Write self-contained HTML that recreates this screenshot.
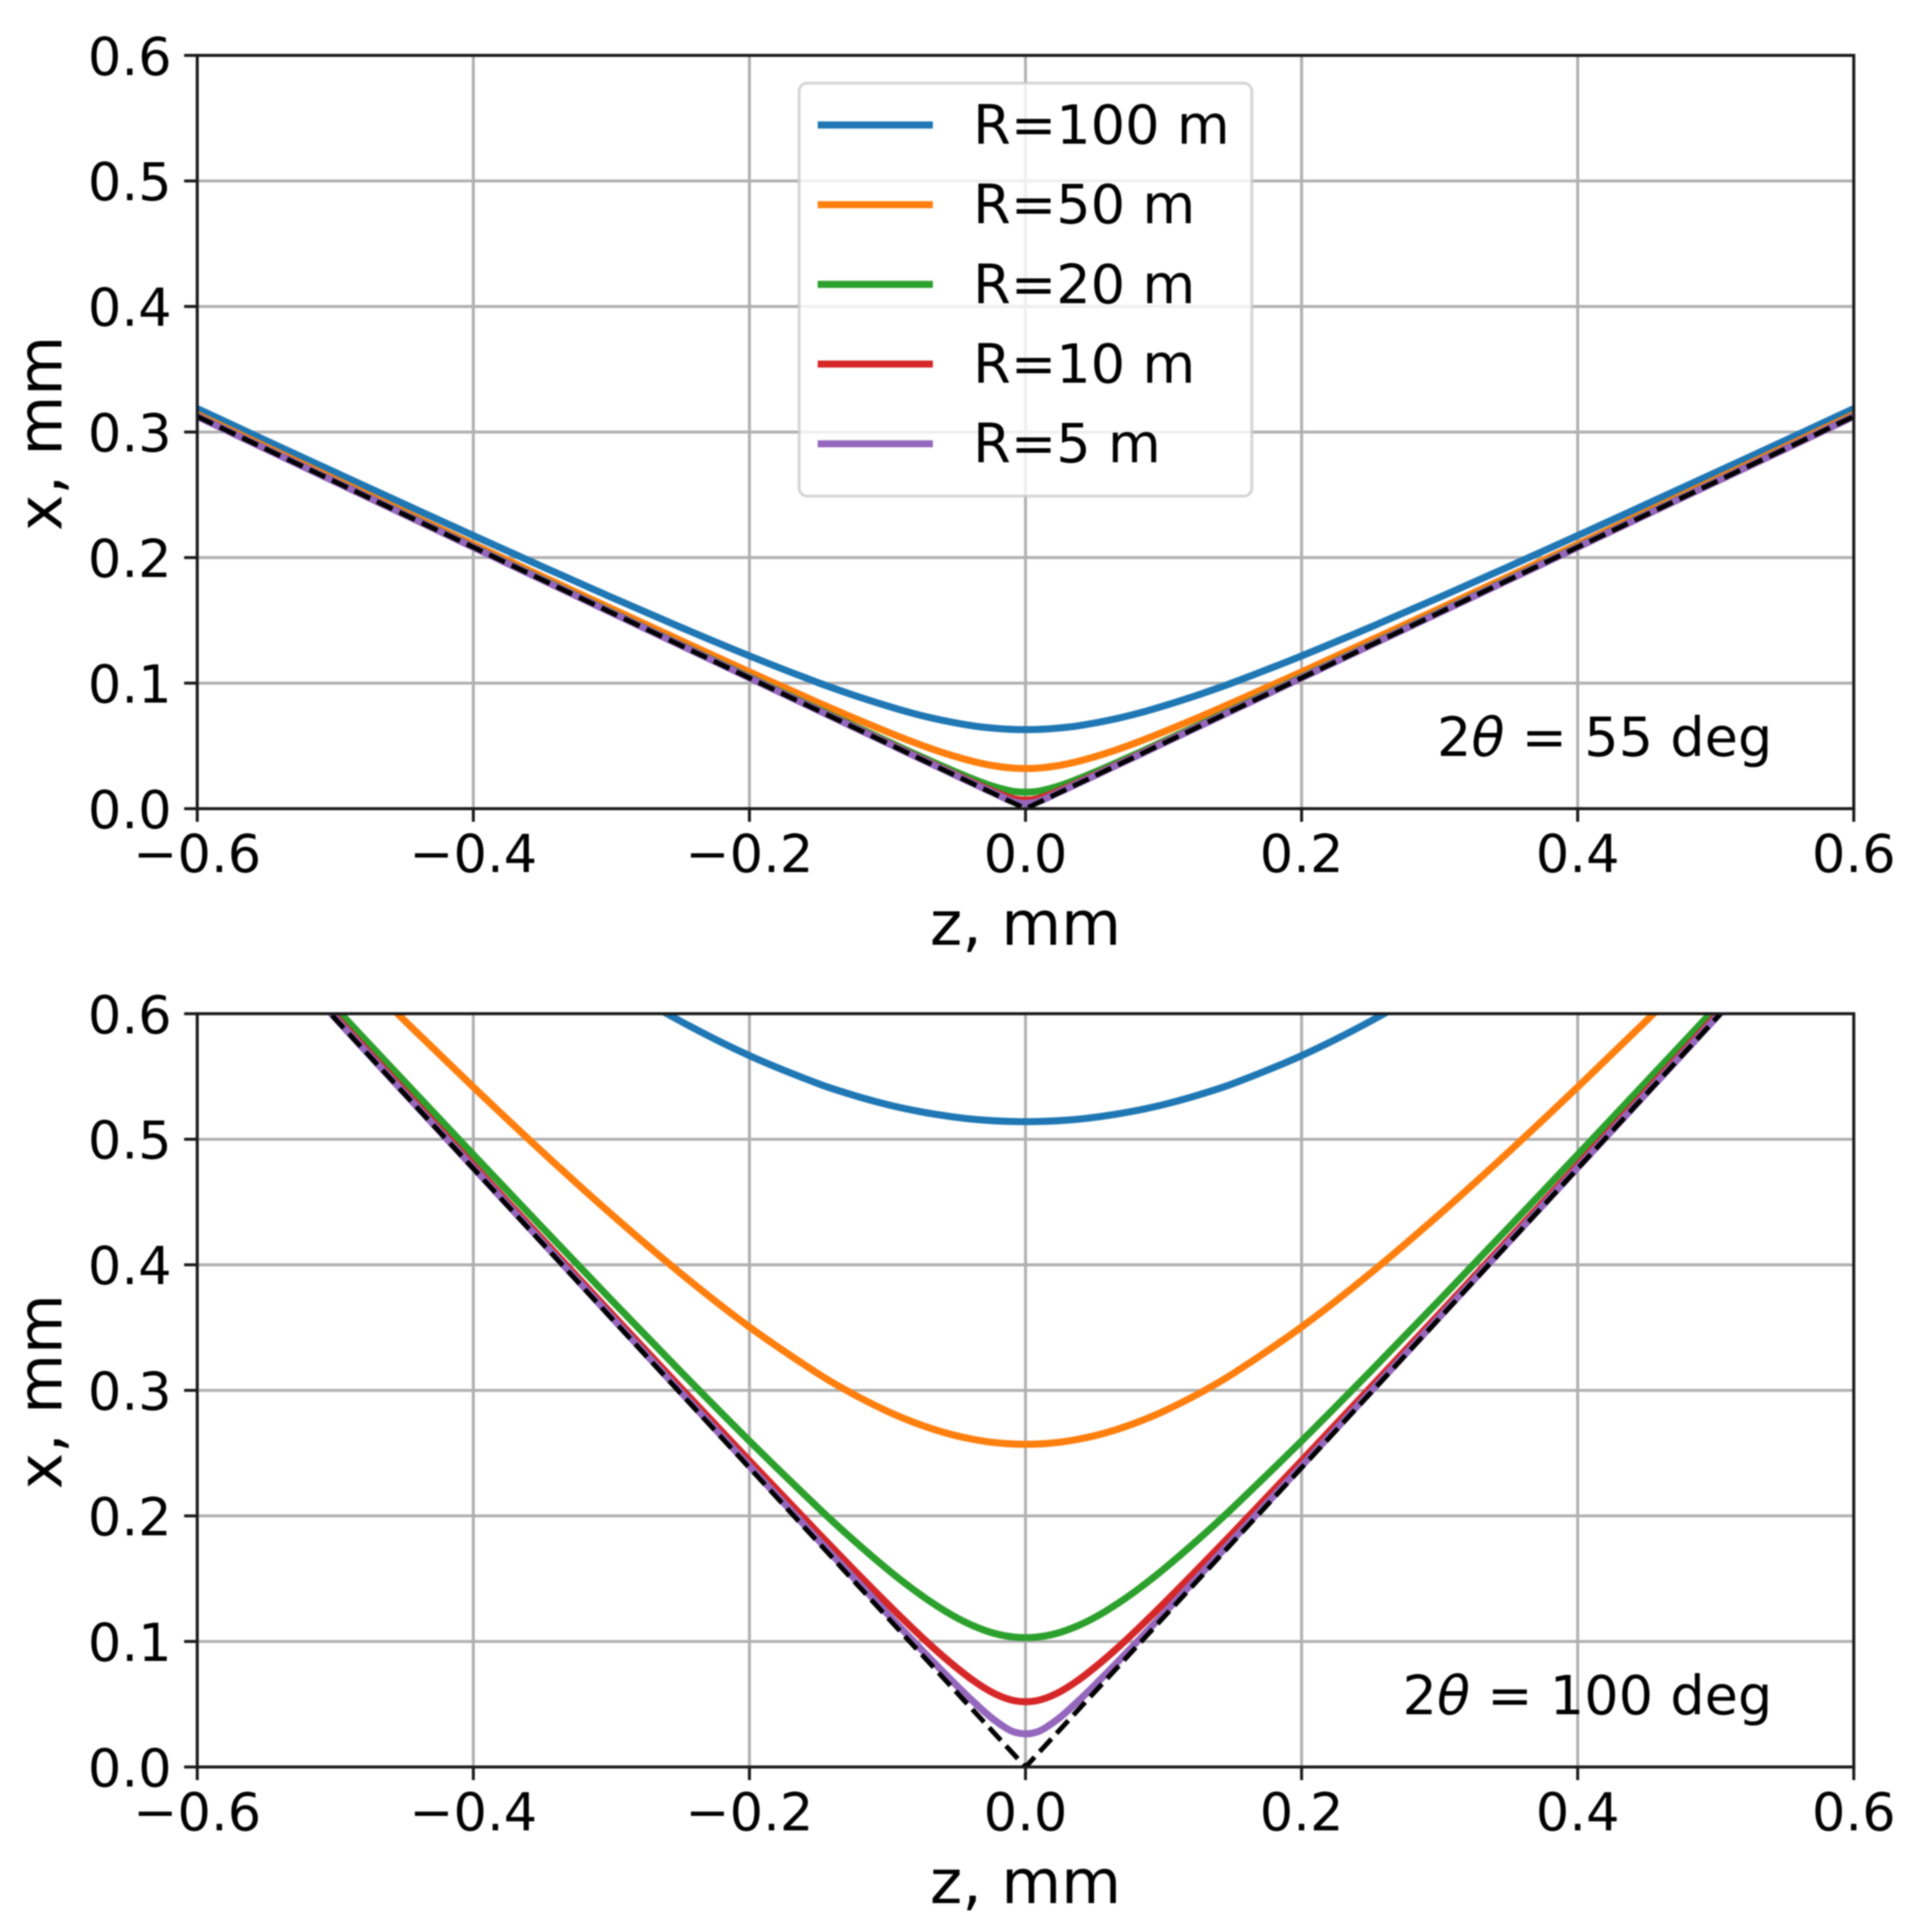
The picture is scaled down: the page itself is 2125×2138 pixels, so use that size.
<!DOCTYPE html>
<html lang="en">
<head>
<meta charset="utf-8">
<title>Curves for two scattering angles</title>
<style>
  html, body { margin: 0; padding: 0; background: #fff; }
  svg { display: block; filter: blur(0.7px); }
  text { font-family: "DejaVu Sans", "Liberation Sans", sans-serif; fill: #000; }
</style>
</head>
<body>
<svg id="figure" xmlns="http://www.w3.org/2000/svg" width="2125" height="2138" viewBox="0 0 2125 2138">
  <rect x="0" y="0" width="2125" height="2138" fill="#ffffff"/>
</svg>
<script>
// Tick labels
const xTicks = [-0.6, -0.4, -0.2, 0.0, 0.2, 0.4, 0.6];
const yTicks = [0.0, 0.1, 0.2, 0.3, 0.4, 0.5, 0.6];

// Series names and colours
const seriesLabels = ['R=100 m', 'R=50 m', 'R=20 m', 'R=10 m', 'R=5 m'];
const seriesKeys = ['r100', 'r50', 'r20', 'r10', 'r5'];
const seriesColors = ['#1f77b4', '#ff7f0e', '#2ca02c', '#d62728', '#9467bd'];

// |z| sample points in mm (curves are symmetric about z = 0)
const zSamples = [0.0075, 0.0225, 0.0375, 0.0525, 0.0675, 0.0825, 0.1, 0.125, 0.15, 0.2, 0.25, 0.3, 0.35, 0.4, 0.45, 0.5, 0.55, 0.6];

// Top panel, 2theta = 55 deg: x in mm at each |z|
const a55R100 = [0.0631, 0.0641, 0.0659, 0.0687, 0.0721, 0.0762, 0.0818, 0.0906, 0.1003, 0.1217, 0.1446, 0.1684, 0.1928, 0.2175, 0.2426, 0.2678, 0.2931, 0.3187];
const a55R50 = [0.0322, 0.0341, 0.0375, 0.0421, 0.0475, 0.0535, 0.0611, 0.0725, 0.0844, 0.1089, 0.1341, 0.1594, 0.1850, 0.2106, 0.2365, 0.2623, 0.2881, 0.3140];
const a55R20 = [0.0136, 0.0175, 0.0234, 0.0302, 0.0374, 0.0448, 0.0537, 0.0664, 0.0792, 0.1049, 0.1308, 0.1567, 0.1827, 0.2086, 0.2347, 0.2606, 0.2866, 0.3127];
const a55R10 = [0.0076, 0.0134, 0.0206, 0.0281, 0.0357, 0.0434, 0.0525, 0.0654, 0.0784, 0.1043, 0.1304, 0.1563, 0.1823, 0.2083, 0.2344, 0.2604, 0.2864, 0.3125];
const a55R5 = [0.0051, 0.0122, 0.0198, 0.0275, 0.0353, 0.0430, 0.0522, 0.0652, 0.0782, 0.1042, 0.1302, 0.1562, 0.1822, 0.2082, 0.2343, 0.2603, 0.2863, 0.3124];

// Bottom panel, 2theta = 100 deg: x in mm at each |z|
const a100R100 = [0.5141, 0.5147, 0.5159, 0.5178, 0.5203, 0.5233, 0.5276, 0.5352, 0.5442, 0.5666, 0.5941, 0.6261, 0.6620, 0.7010, 0.7428, 0.7870, 0.8330, 0.8807];
const a100R50 = [0.2572, 0.2584, 0.2609, 0.2645, 0.2693, 0.2752, 0.2833, 0.2971, 0.3131, 0.3505, 0.3934, 0.4403, 0.4899, 0.5416, 0.5947, 0.6490, 0.7041, 0.7599];
const a100R20 = [0.1034, 0.1064, 0.1123, 0.1205, 0.1307, 0.1424, 0.1575, 0.1811, 0.2063, 0.2597, 0.3152, 0.3720, 0.4297, 0.4877, 0.5461, 0.6047, 0.6636, 0.7225];
const a100R10 = [0.0527, 0.0585, 0.0686, 0.0814, 0.0957, 0.1112, 0.1300, 0.1578, 0.1862, 0.2440, 0.3024, 0.3612, 0.4204, 0.4795, 0.5388, 0.5982, 0.6576, 0.7170];
const a100R5 = [0.0276, 0.0374, 0.0518, 0.0678, 0.0845, 0.1017, 0.1220, 0.1513, 0.1807, 0.2398, 0.2990, 0.3585, 0.4180, 0.4774, 0.5369, 0.5965, 0.6561, 0.7156];

// Black dashed asymptotes
const guideZ = [-0.6, 0, 0.6];
const guide55 = [0.3124, 0, 0.3124];
const guide100 = [0.7151, 0, 0.7151];

// Annotation strings
const angleValue55 = '55 deg';
const angleValue100 = '100 deg';

const SVG_NS = 'http://www.w3.org/2000/svg';
const fig = document.getElementById('figure');
const PLOT_LEFT = 218.3;
const PLOT_RIGHT = 2051.7;
const PLOT_H = 833.6;
const LINE_W = 7.8;
const SPINE = '#1a1a1a';

function node(tag, parent, attrs) {
  const el = document.createElementNS(SVG_NS, tag);
  for (const k in attrs) el.setAttribute(k, attrs[k]);
  parent.appendChild(el);
  return el;
}

function xAxisFn(z) {
  return PLOT_LEFT + (z + 0.6) / 1.2 * (PLOT_RIGHT - PLOT_LEFT);
}

function yAxisFn(top) {
  return function (x) { return top + PLOT_H - x / 0.6 * PLOT_H; };
}

// Smooth path through the mirrored samples (cubic Hermite segments)
function curvePath(yScale, values) {
  const px = [];
  const py = [];
  for (let i = zSamples.length - 1; i >= 0; i--) {
    px.push(xAxisFn(-zSamples[i]));
    py.push(yScale(values[i]));
  }
  for (let i = 0; i < zSamples.length; i++) {
    px.push(xAxisFn(zSamples[i]));
    py.push(yScale(values[i]));
  }
  const n = px.length;
  const slope = function (i) {
    const a = Math.max(i - 1, 0);
    const b = Math.min(i + 1, n - 1);
    return (py[b] - py[a]) / (px[b] - px[a]);
  };
  let d = 'M' + px[0].toFixed(2) + ' ' + py[0].toFixed(2);
  for (let i = 0; i < n - 1; i++) {
    const dx = (px[i + 1] - px[i]) / 3;
    d += 'C' + (px[i] + dx).toFixed(2) + ' ' + (py[i] + slope(i) * dx).toFixed(2) + ' ' +
      (px[i + 1] - dx).toFixed(2) + ' ' + (py[i + 1] - slope(i + 1) * dx).toFixed(2) + ' ' +
      px[i + 1].toFixed(2) + ' ' + py[i + 1].toFixed(2);
  }
  return d;
}

function tickText(v) {
  return (v < 0 ? '\u2212' : '') + Math.abs(v).toFixed(1);
}

function drawPanel(id, top, seriesValues, guideValues, angleValue) {
  const yScale = yAxisFn(top);
  const bottom = top + PLOT_H;

  const panel = node('g', fig, {});
  
  

  const defs = node('defs', panel, {});
  const clip = node('clipPath', defs, { id: 'clip-' + id });
  node('rect', clip, { x: PLOT_LEFT, y: top, width: PLOT_RIGHT - PLOT_LEFT, height: PLOT_H });

  // Grid
  xTicks.forEach(function (t) {
    const line = node('line', panel, { x1: xAxisFn(t), x2: xAxisFn(t), y1: top, y2: bottom, stroke: '#b0b0b0', 'stroke-width': 3.3 });
    
    
  });
  yTicks.forEach(function (t) {
    const line = node('line', panel, { x1: PLOT_LEFT, x2: PLOT_RIGHT, y1: yScale(t), y2: yScale(t), stroke: '#b0b0b0', 'stroke-width': 3.3 });
    
    
  });

  // Series
  const plotArea = node('g', panel, { 'clip-path': 'url(#clip-' + id + ')' });
  
  
  seriesValues.forEach(function (values, i) {
    const line = node('path', plotArea, {
      d: curvePath(yScale, values), fill: 'none', stroke: seriesColors[i],
      'stroke-width': LINE_W, 'stroke-linejoin': 'round'
    });
    
    
  });
  const guidePts = guideZ.map(function (z, i) {
    return xAxisFn(z).toFixed(2) + ',' + yScale(guideValues[i]).toFixed(2);
  }).join(' ');
  const guide = node('polyline', plotArea, {
    points: guidePts, fill: 'none', stroke: '#000000', 'stroke-width': 5.4,
    'stroke-dasharray': '19.2 8.3', 'stroke-linejoin': 'round'
  });
  
  

  // Annotation
  const ann = node('text', panel, { x: 1961.5, y: top + 775, 'font-size': 59.9, 'text-anchor': 'end' });
  
  
  const two = node('tspan', ann, {});
  two.textContent = '2';
  const theta = node('tspan', ann, { 'font-style': 'italic' });
  theta.textContent = '\u03b8';
  const rest = node('tspan', ann, {});
  rest.textContent = '\u00a0=\u00a0' + angleValue.replace(' ', '\u00a0');

  // Spines
  const spines = node('rect', panel, {
    x: PLOT_LEFT, y: top, width: PLOT_RIGHT - PLOT_LEFT, height: PLOT_H,
    fill: 'none', stroke: SPINE, 'stroke-width': 3.3
  });
  
  

  // Ticks and tick labels
  xTicks.forEach(function (t) {
    const tick = node('line', panel, { x1: xAxisFn(t), x2: xAxisFn(t), y1: bottom, y2: bottom + 14.5, stroke: SPINE, 'stroke-width': 3.3 });
    
    
    const label = node('text', panel, { x: xAxisFn(t), y: bottom + 70.3, 'font-size': 58.3, 'text-anchor': 'middle' });
    
    
    label.textContent = tickText(t);
  });
  yTicks.forEach(function (t) {
    const tick = node('line', panel, { x1: PLOT_LEFT - 14.5, x2: PLOT_LEFT, y1: yScale(t), y2: yScale(t), stroke: SPINE, 'stroke-width': 3.3 });
    
    
    const label = node('text', panel, { x: 190, y: yScale(t) + 21.5, 'font-size': 58.3, 'text-anchor': 'end' });
    
    
    label.textContent = tickText(t);
  });

  // Axis titles
  const xTitle = node('text', panel, { x: xAxisFn(0), y: bottom + 150.5, 'font-size': 68, 'text-anchor': 'middle' });
  
  
  xTitle.textContent = 'z, mm';

  const cy = top + PLOT_H / 2 + 1.5;
  const yTitle = node('text', panel, { x: 0, y: 0, 'font-size': 68, 'text-anchor': 'middle', transform: 'translate(68 ' + cy + ') rotate(-90)' });
  
  
  yTitle.textContent = 'x, mm';

  return panel;
}

function drawLegend(parent) {
  const legend = node('g', parent, {});
  
  
  const box = node('rect', legend, {
    x: 884.5, y: 92, width: 501, height: 457, rx: 9, ry: 9,
    fill: '#ffffff', 'fill-opacity': 0.8, stroke: '#cccccc', 'stroke-opacity': 0.8, 'stroke-width': 3.3
  });
  
  
  seriesLabels.forEach(function (name, i) {
    const rowY = 138.3 + i * 88.2;
    const handle = node('line', legend, { x1: 905, x2: 1032.5, y1: rowY, y2: rowY, stroke: seriesColors[i], 'stroke-width': LINE_W });
    
    
    const label = node('text', legend, { x: 1077, y: rowY + 20.6, 'font-size': 60 });
    
    
    label.textContent = name;
  });
}

const topPanel = drawPanel('55-deg', 61.3, [a55R100, a55R50, a55R20, a55R10, a55R5], guide55, angleValue55);
drawLegend(topPanel);
drawPanel('100-deg', 1121.8, [a100R100, a100R50, a100R20, a100R10, a100R5], guide100, angleValue100);
</script>
</body>
</html>
